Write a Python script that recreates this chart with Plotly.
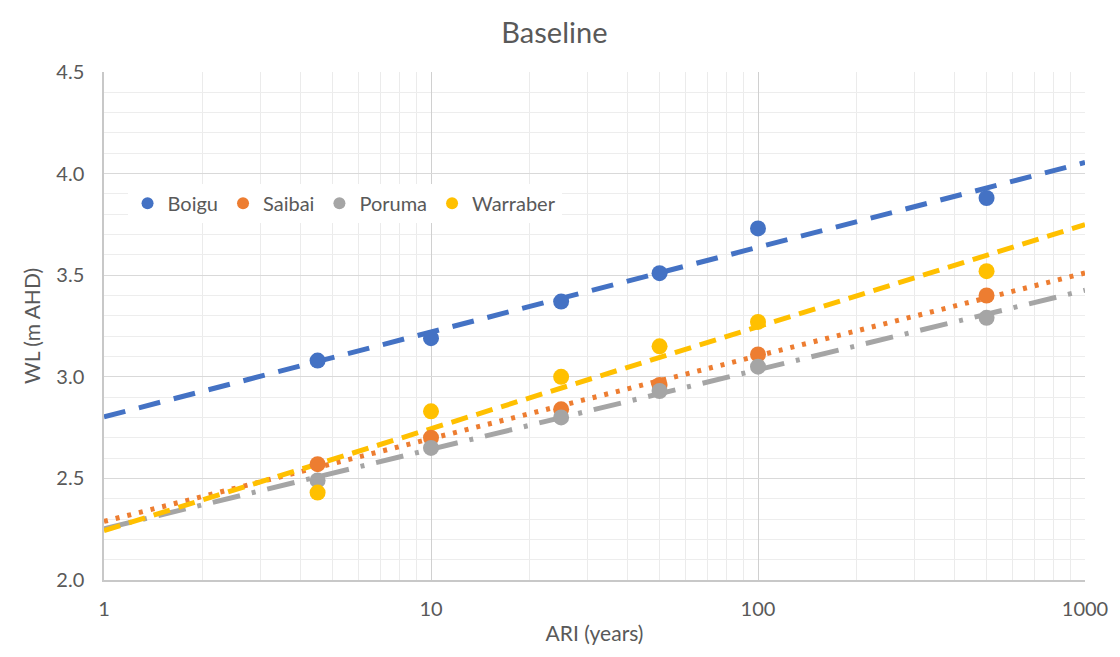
import numpy as np
import plotly.graph_objects as go

ari = [4.5, 10, 25, 50, 100, 500]
series_names = ["Boigu", "Saibai", "Poruma", "Warraber"]
boigu = [3.08, 3.19, 3.37, 3.51, 3.73, 3.88]
saibai = [2.57, 2.70, 2.84, 2.96, 3.11, 3.40]
poruma = [2.49, 2.65, 2.80, 2.93, 3.05, 3.29]
warraber = [2.43, 2.83, 3.00, 3.15, 3.27, 3.52]
trend_x = [1, 1000]
x_ticks = [1, 10, 100, 1000]
y_ticks = [2.0, 2.5, 3.0, 3.5, 4.0, 4.5]

colors = ["#4472C4", "#ED7D31", "#A5A5A5", "#FFC000"]
dashes = ["22px,14px", "4px,8px", "28px,12px,4px,12px", "17px,9px"]
values = [boigu, saibai, poruma, warraber]

fig = go.Figure()
font_family = "Lato, 'Noto Sans', sans-serif"

for name, vals, col, dash in zip(series_names, values, colors, dashes):
    b, a = np.polyfit(np.log10(ari), vals, 1)
    ty = [a + b * np.log10(x) for x in trend_x]
    fig.add_trace(go.Scatter(x=trend_x, y=ty, mode="lines",
                             line=dict(color=col, width=5, dash=dash),
                             showlegend=False, hoverinfo="skip"))

for name, vals, col in zip(series_names, values, colors):
    fig.add_trace(go.Scatter(x=ari, y=vals, mode="markers", name=name,
                             marker=dict(color=col, size=16)))

fig.update_layout(
    width=1120, height=657,
    margin=dict(l=104, r=28, t=72, b=77),
    paper_bgcolor="white", plot_bgcolor="white",
    font=dict(family=font_family, color="#595959", size=20),
    title=dict(text="Baseline", x=0.495, xanchor="center", y=0.95, yanchor="middle",
               font=dict(size=29, color="#595959")),
    legend=dict(orientation="h", x=0.024, y=0.78, xanchor="left", yanchor="top",
                bgcolor="white", font=dict(size=20, color="#595959"),
                itemsizing="constant", traceorder="normal", itemwidth=30),
)
fig.update_xaxes(type="log", range=[0, 3], tickvals=x_ticks, ticktext=[str(v) for v in x_ticks],
                 showgrid=True, gridcolor="#D0D0D0", gridwidth=1.3,
                 minor=dict(showgrid=True, gridcolor="#EBEBEB", dtick="D1", gridwidth=1.3),
                 showline=True, linecolor="#C8C8C8", linewidth=1.5, zeroline=False,
                 ticks="", ticklabelstandoff=10,
                 title=dict(text="ARI (years)", font=dict(size=21), standoff=8),
                 tickfont=dict(size=20))
fig.update_yaxes(range=[2.0, 4.5], tickvals=y_ticks, tickformat=".1f",
                 showgrid=True, gridcolor="#D9D9D9", gridwidth=1.3,
                 minor=dict(showgrid=True, gridcolor="#EDEDED", dtick=0.1, gridwidth=1.3),
                 showline=True, linecolor="#C8C8C8", linewidth=1.5, zeroline=False,
                 ticks="", ticklabelstandoff=14,
                 title=dict(text="WL (m AHD)", font=dict(size=21), standoff=10),
                 tickfont=dict(size=20))

fig.write_html("out.html")
